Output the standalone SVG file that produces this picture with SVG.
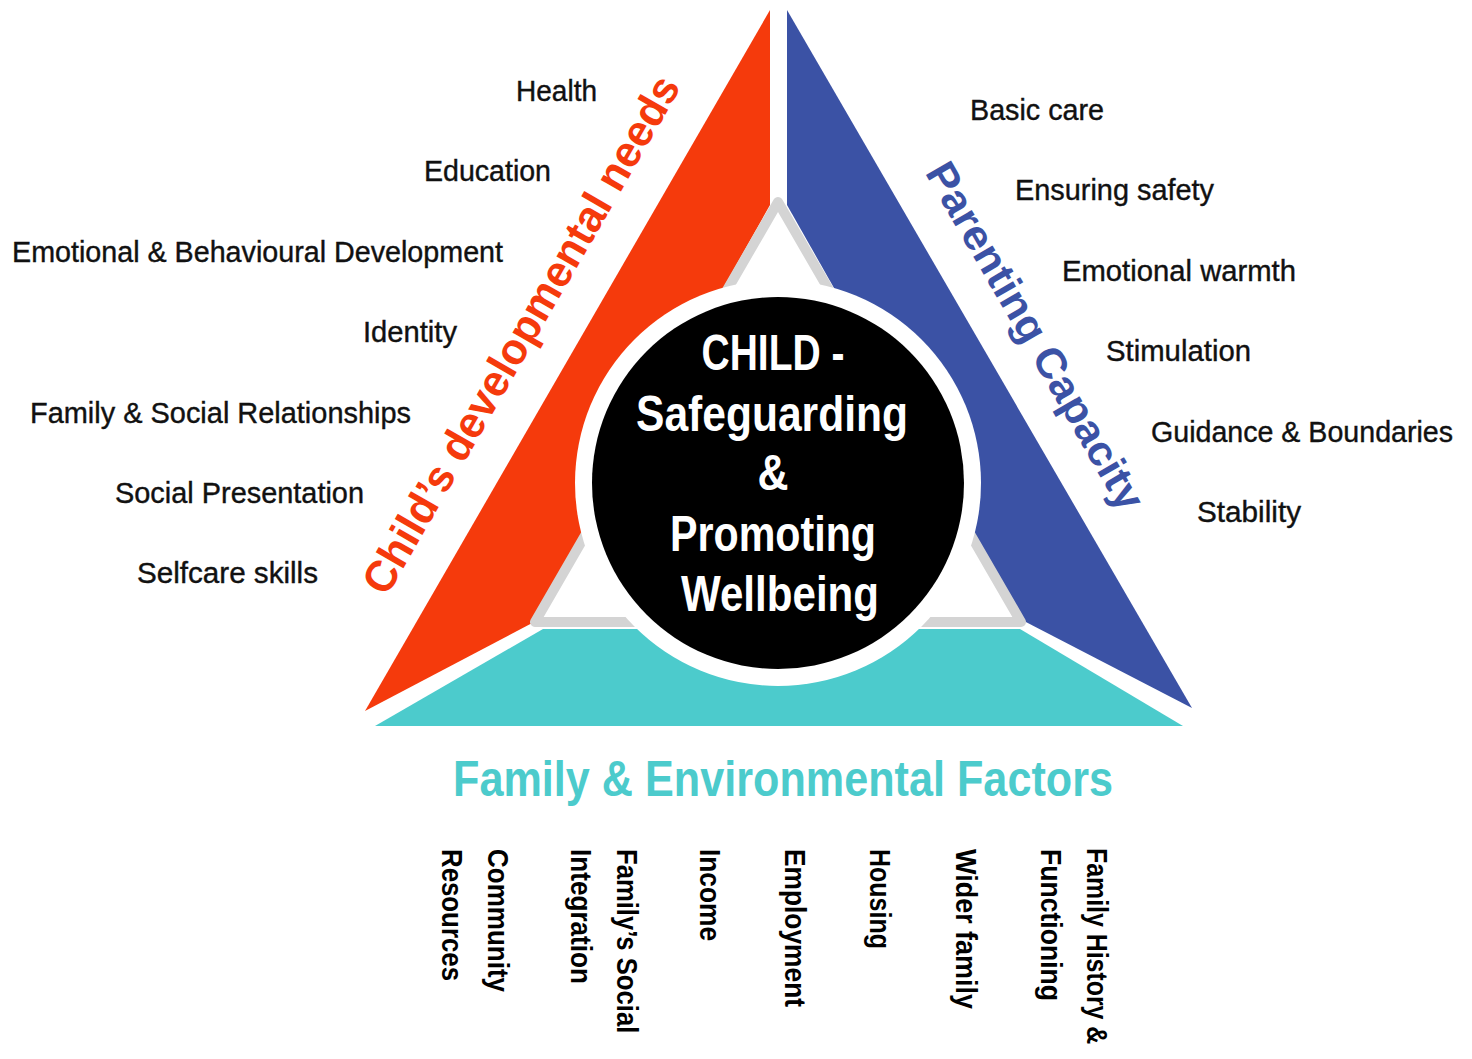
<svg xmlns="http://www.w3.org/2000/svg" width="1472" height="1059" viewBox="0 0 1472 1059">
<style>
.lbl{font-family:"Liberation Sans",Arial,sans-serif;font-size:30px;fill:#111;stroke:#111;stroke-width:0.4}
.bold{font-family:"Liberation Sans",Arial,sans-serif;font-weight:bold}
.ctr{font-size:50px;fill:#fff;text-anchor:middle}
.vert{font-size:30px;fill:#000}
</style>
<rect width="1472" height="1059" fill="#fff"/>
<g id="child-needs-panel">
<polygon points="770,10 770,205 536,621 365,711" fill="#f53a0c"/>
</g>
<g id="parenting-panel">
<polygon points="787,10 1192,708 1022,620 787,205" fill="#3b52a5"/>
</g>
<g id="inner-triangle">
<polygon points="778,202 535,622 1021,622" fill="#fff" stroke="#d4d4d4" stroke-width="10" stroke-linejoin="round"/>
</g>
<g id="family-panel">
<polygon points="375,726 1183,726 1020,629 543,629" fill="#4ccbcc"/>
</g>
<g id="centre">
<circle cx="778" cy="483" r="203" fill="#fff"/>
<circle cx="778" cy="483" r="186" fill="#000"/>
<text class="bold ctr" x="773" y="370" textLength="143" lengthAdjust="spacingAndGlyphs">CHILD -</text>
<text class="bold ctr" x="772" y="431" textLength="272" lengthAdjust="spacingAndGlyphs">Safeguarding</text>
<text class="bold ctr" x="773" y="490" textLength="31" lengthAdjust="spacingAndGlyphs">&amp;</text>
<text class="bold ctr" x="773" y="551" textLength="206" lengthAdjust="spacingAndGlyphs">Promoting</text>
<text class="bold ctr" x="780" y="611" textLength="198" lengthAdjust="spacingAndGlyphs">Wellbeing</text>
</g>
<g id="child-needs-title">
<text class="bold" transform="translate(534,342) rotate(-60)" text-anchor="middle" font-size="44" fill="#f53a0c" textLength="590" lengthAdjust="spacingAndGlyphs">Child’s developmental needs</text>
</g>
<g id="parenting-title">
<text class="bold" transform="translate(1023,343) rotate(60)" text-anchor="middle" font-size="42" fill="#3b52a5" textLength="394" lengthAdjust="spacingAndGlyphs">Parenting Capacity</text>
</g>
<g id="family-title">
<text class="bold" x="453" y="796" font-size="50" fill="#4ccbcc" textLength="660" lengthAdjust="spacingAndGlyphs">Family &amp; Environmental Factors</text>
</g>
<g id="child-needs-items" text-anchor="end">
<text class="lbl" x="597" y="101" textLength="81" lengthAdjust="spacingAndGlyphs">Health</text>
<text class="lbl" x="551" y="181" textLength="127" lengthAdjust="spacingAndGlyphs">Education</text>
<text class="lbl" x="503" y="262" textLength="491" lengthAdjust="spacingAndGlyphs">Emotional &amp; Behavioural Development</text>
<text class="lbl" x="457" y="342" textLength="94" lengthAdjust="spacingAndGlyphs">Identity</text>
<text class="lbl" x="411" y="423" textLength="381" lengthAdjust="spacingAndGlyphs">Family &amp; Social Relationships</text>
<text class="lbl" x="364" y="503" textLength="249" lengthAdjust="spacingAndGlyphs">Social Presentation</text>
<text class="lbl" x="318" y="583" textLength="181" lengthAdjust="spacingAndGlyphs">Selfcare skills</text>
</g>
<g id="parenting-items">
<text class="lbl" x="970" y="120" textLength="134" lengthAdjust="spacingAndGlyphs">Basic care</text>
<text class="lbl" x="1015" y="200" textLength="199" lengthAdjust="spacingAndGlyphs">Ensuring safety</text>
<text class="lbl" x="1062" y="281" textLength="234" lengthAdjust="spacingAndGlyphs">Emotional warmth</text>
<text class="lbl" x="1106" y="361" textLength="145" lengthAdjust="spacingAndGlyphs">Stimulation</text>
<text class="lbl" x="1151" y="442" textLength="302" lengthAdjust="spacingAndGlyphs">Guidance &amp; Boundaries</text>
<text class="lbl" x="1197" y="522" textLength="104" lengthAdjust="spacingAndGlyphs">Stability</text>
</g>
<g id="family-items">
<text class="bold vert" transform="translate(488,849) rotate(90)" textLength="143" lengthAdjust="spacingAndGlyphs">Community</text>
<text class="bold vert" transform="translate(442,849) rotate(90)" textLength="132" lengthAdjust="spacingAndGlyphs">Resources</text>
<text class="bold vert" transform="translate(617,849) rotate(90) scale(0.855,1)">Family’s Social</text>
<text class="bold vert" transform="translate(571,849) rotate(90)" textLength="135" lengthAdjust="spacingAndGlyphs">Integration</text>
<text class="bold vert" transform="translate(700,849) rotate(90)" textLength="92" lengthAdjust="spacingAndGlyphs">Income</text>
<text class="bold vert" transform="translate(785,849) rotate(90)" textLength="158" lengthAdjust="spacingAndGlyphs">Employment</text>
<text class="bold vert" transform="translate(870,849) rotate(90)" textLength="100" lengthAdjust="spacingAndGlyphs">Housing</text>
<text class="bold vert" transform="translate(956,849) rotate(90)" textLength="160" lengthAdjust="spacingAndGlyphs">Wider family</text>
<text class="bold vert" transform="translate(1087,848) rotate(90) scale(0.83,1)">Family History &amp;</text>
<text class="bold vert" transform="translate(1041,849) rotate(90)" textLength="152" lengthAdjust="spacingAndGlyphs">Functioning</text>
</g>
</svg>
